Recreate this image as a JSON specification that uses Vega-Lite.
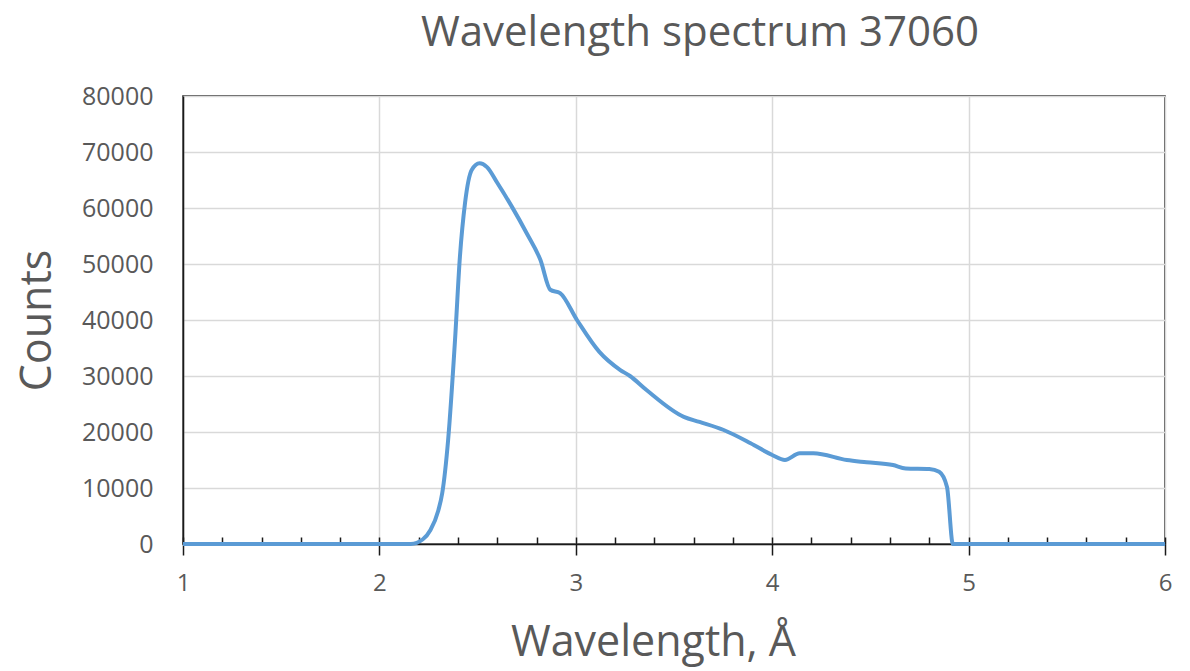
{
  "$schema": "https://vega.github.io/schema/vega-lite/v6.json",
  "width": 982,
  "height": 448,
  "autosize": {"type": "none"},
  "padding": {"left": 183, "top": 96, "right": 25, "bottom": 127},
  "background": "white",
  "title": {
    "text": "Wavelength spectrum 37060",
    "font": "Open Sans",
    "fontSize": 42,
    "fontWeight": "normal",
    "color": "#595959",
    "anchor": "middle",
    "dx": 26,
    "offset": 29
  },
  "config": {
    "view": {"stroke": "#1a1a1a", "strokeWidth": 1.5},
    "axis": {
      "labelFont": "Open Sans",
      "titleFont": "Open Sans",
      "labelColor": "#595959",
      "titleColor": "#595959",
      "titleFontWeight": "normal",
      "labelFlush": false
    }
  },
  "data": {
    "values": [
      {"w": 1.0, "c": 0},
      {"w": 1.5, "c": 0},
      {"w": 2.0, "c": 0},
      {"w": 2.16, "c": 0},
      {"w": 2.22, "c": 800},
      {"w": 2.26, "c": 2500},
      {"w": 2.3, "c": 6000},
      {"w": 2.32, "c": 9100},
      {"w": 2.35, "c": 18600},
      {"w": 2.385, "c": 36400},
      {"w": 2.41, "c": 51300},
      {"w": 2.436, "c": 60900},
      {"w": 2.47, "c": 66800},
      {"w": 2.51, "c": 68000},
      {"w": 2.548, "c": 67300},
      {"w": 2.6, "c": 64500},
      {"w": 2.675, "c": 60200},
      {"w": 2.75, "c": 55500},
      {"w": 2.82, "c": 50700},
      {"w": 2.87, "c": 45400},
      {"w": 2.92, "c": 44800},
      {"w": 3.006, "c": 40000},
      {"w": 3.12, "c": 34300},
      {"w": 3.225, "c": 31100},
      {"w": 3.276, "c": 30000},
      {"w": 3.36, "c": 27500},
      {"w": 3.55, "c": 22700},
      {"w": 3.63, "c": 21800},
      {"w": 3.75, "c": 20400},
      {"w": 3.89, "c": 18000},
      {"w": 4.0, "c": 15900},
      {"w": 4.065, "c": 15000},
      {"w": 4.14, "c": 16200},
      {"w": 4.21, "c": 16200},
      {"w": 4.38, "c": 15000},
      {"w": 4.48, "c": 14600},
      {"w": 4.615, "c": 14100},
      {"w": 4.68, "c": 13500},
      {"w": 4.8, "c": 13400},
      {"w": 4.85, "c": 12900},
      {"w": 4.89, "c": 10200},
      {"w": 4.92, "c": 0},
      {"w": 5.0, "c": 0},
      {"w": 5.5, "c": 0},
      {"w": 6.0, "c": 0}
    ]
  },
  "layer": [
    {
      "mark": {"type": "line", "strokeOpacity": 0},
      "encoding": {
        "x": {
          "field": "w",
          "type": "quantitative",
          "scale": {"domain": [1, 6], "nice": false, "zero": false},
          "axis": {
            "orient": "bottom",
            "values": [1, 2, 3, 4, 5, 6],
            "title": "Wavelength, Å",
            "titleFontSize": 43,
            "titlePadding": 26,
            "titleX": 470,
            "labelFontSize": 24,
            "labelPadding": 16,
            "tickSize": 11,
            "tickColor": "#1a1a1a",
            "tickWidth": 1.5,
            "domainColor": "#1a1a1a",
            "domainWidth": 1.5,
            "grid": true,
            "gridColor": "#d9d9d9",
            "gridWidth": 1.5
          }
        },
        "y": {
          "field": "c",
          "type": "quantitative",
          "scale": {"domain": [0, 80000], "nice": false},
          "axis": {
            "values": [0, 10000, 20000, 30000, 40000, 50000, 60000, 70000, 80000],
            "format": "d",
            "title": "Counts",
            "titleFontSize": 43,
            "titlePadding": 22,
            "labelFontSize": 25,
            "labelPadding": 30,
            "ticks": false,
            "domainColor": "#1a1a1a",
            "domainWidth": 1.5,
            "grid": true,
            "gridColor": "#d9d9d9",
            "gridWidth": 1.5
          }
        }
      }
    },
    {
      "mark": {"type": "line", "color": "#5b9bd5", "strokeWidth": 4, "interpolate": "monotone"},
      "encoding": {
        "x": {
          "field": "w",
          "type": "quantitative",
          "scale": {"domain": [1, 6], "nice": false, "zero": false},
          "axis": {
            "orient": "bottom",
            "values": [1, 1.2, 1.4, 1.6, 1.8, 2, 2.2, 2.4, 2.6, 2.8, 3, 3.2, 3.4, 3.6, 3.8, 4, 4.2, 4.4, 4.6, 4.8, 5, 5.2, 5.4, 5.6, 5.8, 6],
            "title": null,
            "labels": false,
            "domain": false,
            "grid": false,
            "tickSize": -7,
            "tickColor": "#1a1a1a",
            "tickWidth": 1.5
          }
        },
        "y": {
          "field": "c",
          "type": "quantitative",
          "scale": {"domain": [0, 80000], "nice": false},
          "axis": {
            "values": [0, 10000, 20000, 30000, 40000, 50000, 60000, 70000, 80000],
            "format": "d",
            "title": "Counts",
            "titleFontSize": 43,
            "titlePadding": 22,
            "labelFontSize": 25,
            "labelPadding": 30,
            "ticks": false,
            "domainColor": "#1a1a1a",
            "domainWidth": 1.5,
            "grid": true,
            "gridColor": "#d9d9d9",
            "gridWidth": 1.5
          }
        }
      }
    }
  ],
  "resolve": {"axis": {"x": "independent"}}
}
